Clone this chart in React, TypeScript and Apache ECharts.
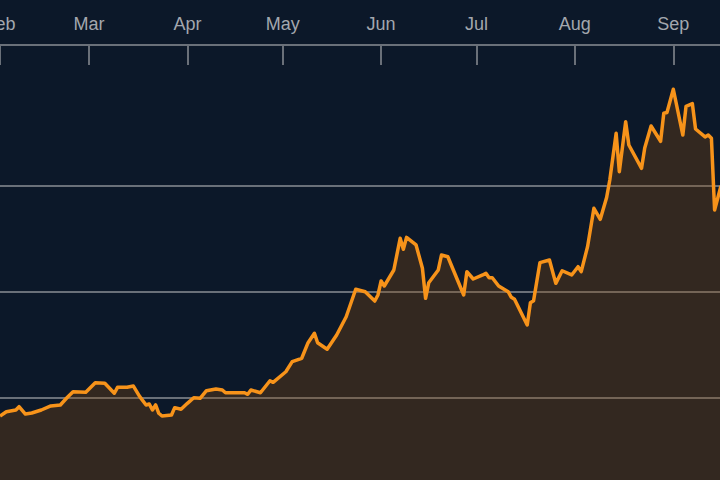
import React, { useEffect, useRef } from "react";
import * as echarts from "echarts";

// Days counted from 1 Feb
const monthLabels = ["Feb", "Mar", "Apr", "May", "Jun", "Jul", "Aug", "Sep"];
const monthStartDays = [0, 28, 59, 89, 120, 150, 181, 212];

const dayOffsets = [
  0, 2, 5, 6, 8, 10, 13, 16, 19, 21, 23, 27, 30, 33, 36, 37, 40, 42, 44, 46,
  47, 48, 49, 50, 51, 54, 55, 57, 59, 61, 63, 65, 68, 70, 71, 77, 78, 79, 82,
  85, 86, 90, 92, 95, 97, 99, 100, 103, 106, 109, 112, 115, 118, 119, 120, 121,
  124, 126, 127, 128, 131, 133, 134, 135, 138, 139, 141, 146, 147, 149, 152,
  153, 154, 155, 157, 160, 161, 162, 166, 167, 168, 170, 173, 175, 177, 180,
  182, 183, 185, 187, 189, 191, 192, 194, 195, 197, 198, 202, 203, 205, 208,
  209, 210, 212, 215, 216, 218, 219, 222, 223, 224, 225, 227,
];

const prices = [
  825, 866, 882, 913, 844, 854, 882, 920, 929, 995, 1055, 1049, 1140, 1134,
  1040, 1096, 1096, 1108, 1008, 929, 939, 882, 930, 851, 825, 835, 904, 889,
  945, 998, 992, 1064, 1080, 1071, 1045, 1045, 1030, 1071, 1045, 1158, 1143,
  1243, 1338, 1370, 1517, 1606, 1517, 1455, 1590, 1762, 2021, 1998, 1910, 1967,
  2099, 2052, 2203, 2502, 2398, 2511, 2439, 2219, 1936, 2083, 2203, 2344, 2328,
  1967, 2187, 2118, 2156, 2172, 2130, 2130, 2052, 1998, 1945, 1926, 1684, 1894,
  1913, 2272, 2297, 2077, 2196, 2156, 2234, 2187, 2423, 2785, 2681, 2887, 3052,
  3492, 3130, 3602, 3382, 3162, 3354, 3561, 3417, 3681, 3689, 3908, 3476, 3747,
  3772, 3533, 3458, 3476, 3445, 2769, 2995,
];

export default function App() {
  const ref = useRef<HTMLDivElement>(null);

  useEffect(() => {
    if (!ref.current) return;
    const chart = echarts.init(ref.current, null, { renderer: "svg" });
    const data = dayOffsets.map((d, i) => [d, prices[i]]);
    const gray = "#6a7079";
    chart.setOption({
      animation: false,
      backgroundColor: "#0c1829",
      grid: {
        left: 0,
        right: 0,
        top: 79.5,
        height: 424,
        containLabel: false,
        outerBoundsMode: "none",
      },
      xAxis: {
        type: "value",
        position: "top",
        offset: 34.5,
        min: 0,
        max: 226.7,
        axisLine: {
          show: true,
          onZero: false,
          lineStyle: { color: gray, width: 2 },
        },
        axisTick: {
          show: true,
          inside: true,
          length: 20,
          customValues: monthStartDays,
          lineStyle: { color: gray, width: 2 },
        },
        axisLabel: {
          show: true,
          customValues: monthStartDays,
          margin: 12,
          color: "#a3a7ae",
          fontSize: 18,
          fontFamily: "Liberation Sans, Arial, sans-serif",
          formatter: (v: number) => {
            const idx = monthStartDays.indexOf(Math.round(v));
            return idx >= 0 ? monthLabels[idx] : "";
          },
        },
        splitLine: { show: false },
      },
      yAxis: {
        type: "value",
        min: 0,
        max: 4000,
        interval: 1000,
        axisLine: { show: false },
        axisTick: { show: false },
        axisLabel: { show: false },
        splitLine: {
          show: true,
          showMinLine: false,
          showMaxLine: false,
          lineStyle: { color: gray, width: 2 },
        },
      },
      series: [
        {
          type: "line",
          data,
          showSymbol: false,
          smooth: false,
          lineStyle: { color: "#f7931a", width: 3.5, join: "round" },
          areaStyle: {
            color: "rgba(139,76,13,0.31)",
            opacity: 1,
            origin: "start",
          },
          z: 3,
        },
      ],
    });
    return () => chart.dispose();
  }, []);

  return (
    <div
      ref={ref}
      style={{ position: "fixed", left: 0, top: 0, width: 720, height: 480 }}
    />
  );
}
